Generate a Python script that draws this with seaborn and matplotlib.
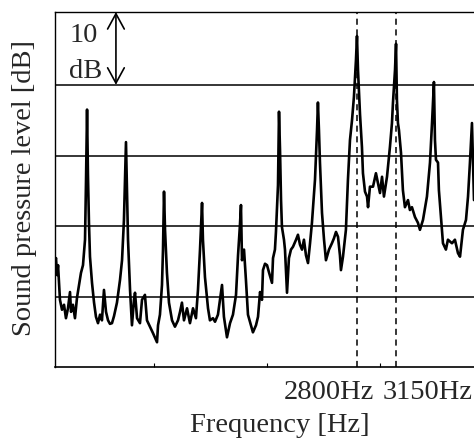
import numpy as np
import pandas as pd
import matplotlib
matplotlib.use("Agg")
import matplotlib.pyplot as plt
import seaborn as sns

# ---- data ----
freq_hz = [124, 133, 142, 151, 168, 186, 204, 221, 239, 257, 266, 283, 301, 319, 337, 354, 372, 390, 399, 408,
           416, 425, 434, 452, 470, 487, 505, 523, 540, 558, 576, 594, 611, 629, 647, 673, 700, 718, 735, 744,
           753, 762, 771, 789, 806, 824, 833, 851, 877, 895, 921, 939, 966, 992, 1028, 1037, 1054, 1072, 1081, 1090,
           1099, 1116, 1134, 1161, 1187, 1214, 1232, 1249, 1267, 1294, 1320, 1347, 1373, 1391, 1409, 1427, 1435, 1453, 1480, 1497,
           1524, 1542, 1568, 1586, 1604, 1621, 1648, 1675, 1701, 1728, 1746, 1763, 1772, 1781, 1799, 1816, 1834, 1852, 1878, 1905,
           1923, 1941, 1958, 1967, 1985, 2003, 2020, 2047, 2056, 2073, 2082, 2100, 2109, 2118, 2127, 2135, 2153, 2162, 2180, 2197,
           2215, 2233, 2260, 2277, 2295, 2313, 2330, 2348, 2366, 2384, 2401, 2428, 2446, 2454, 2463, 2472, 2490, 2508, 2525, 2552,
           2578, 2596, 2614, 2632, 2649, 2658, 2676, 2702, 2720, 2738, 2756, 2773, 2791, 2800, 2809, 2827, 2844, 2853, 2871, 2889,
           2898, 2915, 2942, 2968, 2986, 3004, 3022, 3039, 3066, 3092, 3110, 3119, 3137, 3146, 3154, 3163, 3172, 3190, 3207, 3225,
           3252, 3269, 3287, 3314, 3340, 3358, 3385, 3420, 3447, 3465, 3482, 3491, 3500, 3518, 3526, 3544, 3562, 3588, 3606, 3642,
           3668, 3695, 3713, 3739, 3766, 3784, 3801, 3819, 3828, 3837]
level_db = [25.0, 25.5, 23.1, 24.5, 19.6, 18.2, 18.9, 17.0, 18.4, 20.7, 17.9, 18.9, 17.0, 19.9, 21.7, 23.4, 24.5, 28.1, 36.6, 46.5,
            37.3, 30.5, 25.7, 22.0, 19.2, 17.2, 16.3, 17.5, 16.7, 21.0, 17.9, 16.7, 16.2, 16.3, 17.3, 19.2, 22.4, 25.2, 30.9, 36.6,
            41.9, 35.1, 28.1, 21.0, 16.0, 19.6, 20.6, 17.0, 16.3, 19.6, 20.3, 16.7, 15.8, 14.9, 13.6, 16.0, 17.5, 21.7, 26.7, 34.9,
            29.5, 23.4, 19.2, 16.7, 15.8, 16.7, 17.9, 19.2, 16.7, 18.4, 16.3, 18.4, 17.0, 21.0, 26.7, 33.3, 28.1, 22.8, 18.4, 16.7,
            17.0, 16.5, 17.5, 19.6, 21.7, 17.2, 14.3, 16.3, 17.5, 20.3, 25.9, 30.2, 33.0, 25.2, 26.7, 22.4, 17.5, 16.5, 15.0, 16.0,
            17.2, 20.7, 19.6, 23.8, 24.7, 24.5, 23.5, 22.0, 25.5, 26.7, 29.2, 35.8, 46.2, 40.8, 33.7, 29.9, 28.1, 26.7, 20.6, 25.5,
            26.7, 27.1, 28.1, 28.8, 27.4, 26.7, 28.1, 25.9, 24.8, 27.6, 30.5, 36.6, 43.6, 47.5, 43.6, 39.0, 31.9, 28.1, 25.2, 26.7,
            27.6, 28.3, 29.2, 28.5, 25.9, 23.8, 25.7, 29.5, 36.6, 42.2, 45.0, 48.3, 53.5, 56.9, 52.1, 45.8, 41.2, 37.5, 34.9, 34.2,
            32.7, 35.6, 35.6, 37.5, 36.1, 34.7, 37.0, 34.2, 37.0, 41.2, 44.6, 47.5, 52.1, 55.8, 47.9, 44.6, 43.6, 40.4, 35.1, 32.7,
            33.7, 32.3, 32.7, 31.3, 30.5, 29.5, 30.9, 34.2, 39.0, 44.6, 50.4, 42.2, 39.4, 39.0, 35.1, 31.3, 27.6, 26.7, 28.1, 27.6,
            28.1, 26.2, 25.7, 29.5, 30.9, 34.2, 39.0, 44.6, 39.4, 33.7]
ref_lines_db = [20, 30, 40, 50]
marker_freqs = [2800, 3150]
marker_labels = ["2800Hz", "3150Hz"]
tick_freqs = [1000, 2000, 3000]
scale_step_db = 10

df = pd.DataFrame({"freq": freq_hz, "level": level_db})

sns.set_style("white")
plt.rcParams["font.family"] = ["Liberation Serif", "DejaVu Serif"]

W, H = 474, 441
fig = plt.figure(figsize=(W / 100, H / 100), dpi=100)
ax = fig.add_axes([55 / W, 1 - 367 / H, (474 - 55) / W, (367 - 12) / H])

XMIN, XMAX = 124, 3837
YMIN, YMAX = 10.1, 60.3

for lv in ref_lines_db:
    ax.axhline(lv, color="#262626", lw=1.3, zorder=1)
for mf in marker_freqs:
    ax.axvline(mf, color="black", lw=1.1, ls=(0, (4, 3)), zorder=1)

sns.lineplot(data=df, x="freq", y="level", ax=ax, color="black", lw=1.9,
             sort=False, estimator=None, zorder=3)

ax.set_xlim(XMIN, XMAX)
ax.set_ylim(YMIN, YMAX)
ax.set_xticks(tick_freqs)
ax.set_xticklabels([])
ax.set_yticks([])
ax.tick_params(axis="x", direction="in", length=3, width=0.8, color="black", bottom=True)
ax.set_xlabel("")
ax.set_ylabel("")
for side in ["top", "left", "bottom"]:
    ax.spines[side].set_visible(True)
    ax.spines[side].set_color("black")
ax.spines["top"].set_linewidth(1.0)
ax.spines["left"].set_linewidth(1.0)
ax.spines["bottom"].set_linewidth(1.2)
ax.spines["right"].set_visible(False)

# 10 dB scale arrow
arrow_x = 664
ax.annotate("", xy=(arrow_x, YMAX), xytext=(arrow_x, ref_lines_db[-1]),
            arrowprops=dict(arrowstyle="<->,head_length=0.55,head_width=0.3",
                            lw=1.2, color="black", mutation_scale=20,
                            shrinkA=0, shrinkB=0))

FS = 20.5
fig.text(70 / W, 1 - 42 / H, f"{scale_step_db}", fontsize=FS, ha="left", va="baseline")
fig.text(69 / W, 1 - 78 / H, "dB", fontsize=FS, ha="left", va="baseline")

fig.text(328.5 / W, 1 - 399 / H, marker_labels[0], fontsize=FS, ha="center", va="baseline")
fig.text(427.5 / W, 1 - 399 / H, marker_labels[1], fontsize=FS, ha="center", va="baseline")

fig.text(280 / W, 1 - 432 / H, "Frequency [Hz]", fontsize=FS, ha="center", va="baseline")
fig.text(25 / W, 1 - 188 / H, "Sound pressure level [dB]", fontsize=FS, rotation=90,
         ha="center", va="center")

fig.savefig("out.png", dpi=100)
